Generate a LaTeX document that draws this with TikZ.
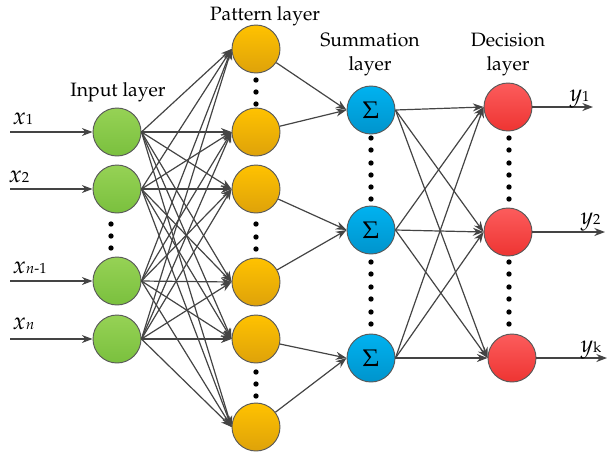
\documentclass[tikz,border=0pt]{standalone}
\usepackage[T1]{fontenc}
\usepackage{mathpazo}
\usetikzlibrary{arrows.meta,positioning}
\definecolor{greentop}{RGB}{150,210,85}
\definecolor{greenbot}{RGB}{122,192,62}
\definecolor{orangetop}{RGB}{255,194,0}
\definecolor{orangebot}{RGB}{222,162,10}
\definecolor{bluetop}{RGB}{0,178,240}
\definecolor{bluebot}{RGB}{0,148,204}
\definecolor{redtop}{RGB}{252,92,92}
\definecolor{redbot}{RGB}{238,52,50}
\definecolor{linegray}{RGB}{68,68,68}
\newcommand{\lowidx}[1]{{\fontsize{11}{11}\selectfont #1}}

\begin{document}
\begin{tikzpicture}[x=0.75pt,y=-0.75pt,line width=0.9pt,
  >={Stealth[length=8pt,width=6pt]},
  main node/.style={circle,draw=black!65,line width=0.7pt,minimum size=36pt,inner sep=0pt},
  input node/.style={main node,top color=greentop,bottom color=greenbot},
  pattern node/.style={main node,top color=orangetop,bottom color=orangebot},
  sum node/.style={main node,top color=bluetop,bottom color=bluebot,font=\fontsize{18}{18}\selectfont},
  out node/.style={main node,top color=redtop,bottom color=redbot},
  link/.style={->,draw=linegray},
  title/.style={align=center,font=\fontsize{14.5}{18}\selectfont},
  var/.style={anchor=base west,inner sep=0pt,font=\fontsize{18}{18}\selectfont}]
\useasboundingbox (0,0) rectangle (607,455);
%titles
\node[title] (tin) at (118,92) {Input layer};
\node[title] (tpat) at (265,16) {Pattern layer};
\node[title] (tsum) at (370,55) {Summation\\layer};
\node[title] (tdec) at (508,55) {Decision\\layer};
%nodes
\node[input node] (i1) at (117,132) {};
\node[input node] (i2) at (117,189) {};
\node[input node] (i3) at (117,281) {};
\node[input node] (i4) at (117,339) {};
\node[pattern node] (p1) at (256,49) {};
\node[pattern node] (p2) at (256,132) {};
\node[pattern node] (p3) at (256,189) {};
\node[pattern node] (p4) at (256,282) {};
\node[pattern node] (p5) at (256,339) {};
\node[pattern node] (p6) at (256,427) {};
\node[sum node] (s1) at (371,110) {$\Sigma$};
\node[sum node] (s2) at (371,230) {$\Sigma$};
\node[sum node] (s3) at (371,358) {$\Sigma$};
\node[out node] (d1) at (508,107) {};
\node[out node] (d2) at (508,232) {};
\node[out node] (d3) at (512,358) {};
%inputs and outputs
\coordinate (a1) at (10,132);
\coordinate (a2) at (10,189);
\coordinate (a3) at (10,281);
\coordinate (a4) at (10,339);
\coordinate (b1) at (593,107);
\coordinate (b2) at (605,232);
\coordinate (b3) at (607,358);
\foreach \k in {1,...,4} \draw[link] (a\k) -- (i\k);
\foreach \k in {1,2,3} \draw[link] (d\k.east) -- (b\k);
\node[var] (x1) at (12,124) {$x$\lowidx{1}};
\node[var] (x2) at (8,182) {$x$\lowidx{2}};
\node[var] (x3) at (12,273) {$x$\lowidx{$n$-1}};
\node[var] (x4) at (12,329) {$x$\lowidx{$n$}};
\node[var] (y1) at (569,101) {$y$\lowidx{1}};
\node[var] (y2) at (580,224) {$y$\lowidx{2}};
\node[var] (y3) at (580,352) {$y$\lowidx{k}};
%connections
\foreach \i in {1,...,4}
  \foreach \j in {1,...,6}
    \draw[link] (i\i.east) -- (p\j.west);
\draw[link] (p1) -- (s1.west);
\draw[link] (p2) -- (s1.west);
\draw[link] (p3) -- (s2.west);
\draw[link] (p4) -- (s2.west);
\draw[link] (p5) -- (s3.west);
\draw[link] (p6) -- (s3.west);
\foreach \i in {1,2,3}
  \foreach \j in {1,2,3}
    \draw[link] (s\i.east) -- (d\j.west);
%dots
\foreach \y in {224,236,248} \fill (111,\y) circle (2pt);
\foreach \y in {80,92,104,224,237,249,372,384,396} \fill (256,\y) circle (2pt);
\foreach \y in {138,150,163,175,187,199,262,274,287,299,312,324} {
  \fill (371,\y) circle (2pt);
  \fill (509,\y) circle (2pt);
}
\end{tikzpicture}
\end{document}
